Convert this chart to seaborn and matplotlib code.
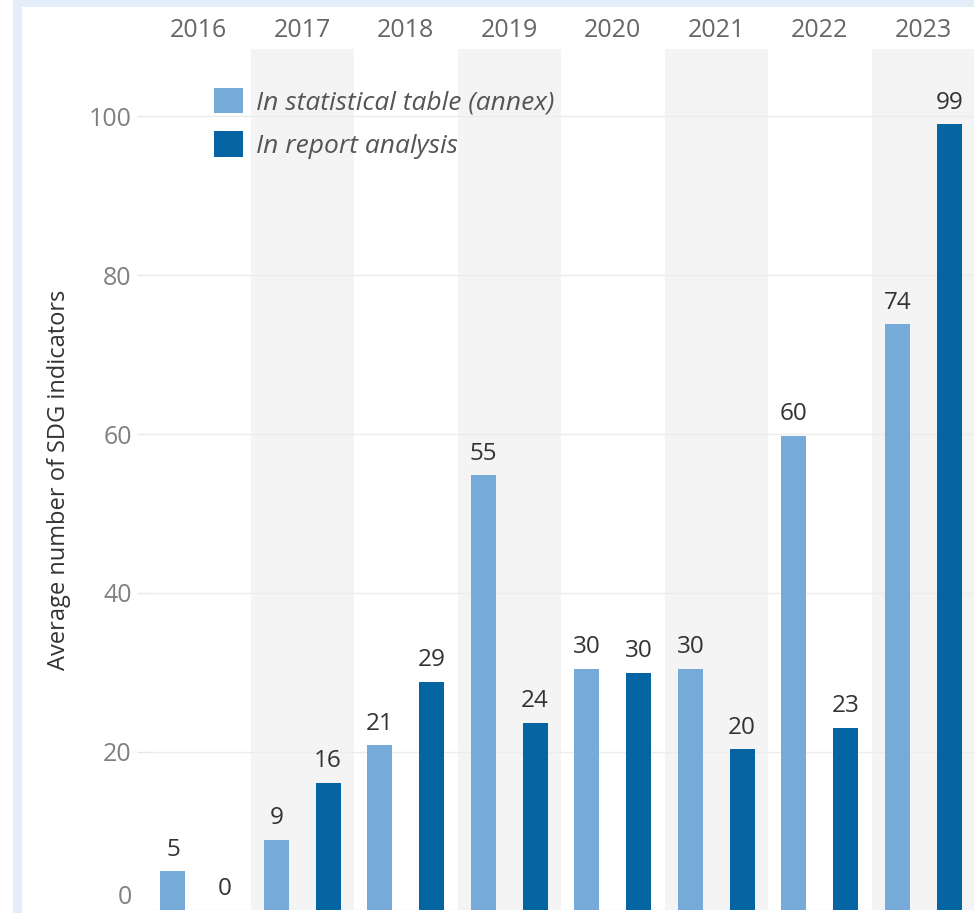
import pandas as pd
import matplotlib
matplotlib.use("Agg")
import matplotlib.pyplot as plt
from matplotlib.patches import Rectangle
import seaborn as sns

# values
years = ['2016', '2017', '2018', '2019', '2020', '2021', '2022', '2023']
in_table = [4.9, 8.9, 20.8, 54.8, 30.4, 30.4, 59.8, 73.8]
in_report = [0.0, 16.1, 28.8, 23.6, 29.9, 20.3, 23.0, 99.0]
series_names = ['In statistical table (annex)', 'In report analysis']
y_ticks = [0, 20, 40, 60, 80, 100]

light_blue = '#76aad8'
dark_blue = '#0565a2'

# long format table for seaborn
data = pd.concat([
    pd.DataFrame({'year': years, 'value': in_table, 'series': series_names[0]}),
    pd.DataFrame({'year': years, 'value': in_report, 'series': series_names[1]}),
])

sns.set_style("white")
plt.rcParams['font.family'] = ['Open Sans', 'DejaVu Sans']

fig = plt.figure(figsize=(9.74, 9.13), dpi=100)
ax = fig.add_axes([147 / 974, 2.6 / 913, 828 / 974, 861.4 / 913])

# light blue frame strips on the left and top
fig.patches.append(Rectangle((13 / 974, 0), 9 / 974, 1, transform=fig.transFigure,
                             facecolor='#e4eef8', edgecolor='none', zorder=-1))
fig.patches.append(Rectangle((13 / 974, 1 - 7 / 913), 1, 7 / 913, transform=fig.transFigure,
                             facecolor='#e4eef8', edgecolor='none', zorder=-1))

# alternating gray year bands
for i in range(1, len(years), 2):
    ax.axvspan(i - 0.5, i + 0.5, color='#f4f4f4', zorder=0, lw=0)

sns.barplot(data=data, x='year', y='value', hue='series', palette=[light_blue, dark_blue],
            saturation=1, width=1.0, gap=0.52, linewidth=0, ax=ax)

#value labels above bars
for container in ax.containers:
    ax.bar_label(container, labels=[f'{v:.0f}' for v in container.datavalues],
                 padding=7, fontsize=17.5, color='#333333')

ax.set_xlim(-0.5, len(years) - 0.5)
ax.set_ylim(0, 108.5)
ax.set_yticks(y_ticks)
ax.grid(axis='y', color='#ececec', lw=1)
ax.set_axisbelow(True)
sns.despine(ax=ax, left=True, bottom=True)

ax.xaxis.tick_top()
ax.tick_params(axis='x', length=0, labelsize=18, labelcolor='#666666', pad=4)
ax.tick_params(axis='y', length=7, width=1, color='#e6e6e6', labelsize=18,
               labelcolor='#808080', pad=4, left=True)
ax.set_xlabel('')
ax.set_ylabel('Average number of SDG indicators', fontsize=17, color='#333333', labelpad=13)
ax.get_yticklabels()[0].set_va('bottom')
ax.yaxis.get_major_ticks()[0].tick1line.set_visible(False)

handles, labels = ax.get_legend_handles_labels()
leg = ax.legend(handles, labels, loc='upper left', bbox_to_anchor=(0.081, 0.9547),
                frameon=False, borderpad=0, borderaxespad=0,
                handlelength=1.1, handleheight=1.1, handletextpad=0.5, labelspacing=0.6,
                prop={'family': 'Open Sans', 'style': 'italic', 'size': 19})
for t in leg.get_texts():
    t.set_color('#555555')

fig.savefig('out.png', dpi=100, facecolor='white')
